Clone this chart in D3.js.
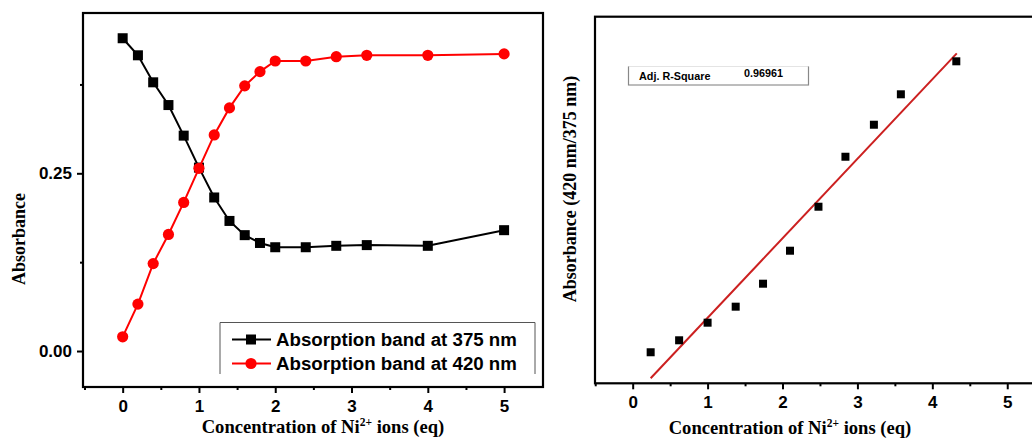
<!DOCTYPE html>
<html>
<head>
<meta charset="utf-8">
<script src="https://cdn.jsdelivr.net/npm/d3@7"></script>
<style>
  body { margin: 0; background: #fff; }
  text { fill: #000; }
</style>
</head>
<body>
<div id="chart"></div>
<script>
// left panel data: absorbance vs equivalents of Ni2+
var conc = [0, 0.2, 0.4, 0.6, 0.8, 1.0, 1.2, 1.4, 1.6, 1.8, 2.0, 2.4, 2.8, 3.2, 4.0, 5.0];
var abs375 = [0.440, 0.416, 0.378, 0.346, 0.303, 0.258, 0.216, 0.183, 0.163, 0.152, 0.146, 0.146, 0.148, 0.149, 0.148, 0.170];
var abs420 = [0.020, 0.066, 0.123, 0.164, 0.209, 0.257, 0.304, 0.342, 0.373, 0.393, 0.408, 0.408, 0.414, 0.416, 0.416, 0.418];
var seriesNames = ["Absorption band at 375 nm", "Absorption band at 420 nm"];
var xTicks = [0, 1, 2, 3, 4, 5];
var xMinor = [-0.5, 0.5, 1.5, 2.5, 3.5, 4.5];
var yTicksLeft = [0, 0.25];
var yMinorLeft = [0.125, 0.375];

// right panel data: ratio 420/375 (no y labels in the original, arbitrary units)
var ratioX = [0.24, 0.62, 1.0, 1.375, 1.74, 2.1, 2.48, 2.84, 3.22, 3.58, 4.32];
var ratioY = [0.254, 0.352, 0.496, 0.627, 0.815, 1.085, 1.445, 1.854, 2.116, 2.365, 2.635];
var fitX = [0.24, 4.326];
var fitY = [0.041, 2.70];
var adjR2 = "0.96961";

var W = 1032, H = 439;
var svg = d3.select("#chart").append("svg")
    .attr("width", W).attr("height", H)
    .style("display", "block");

var sans = "'Liberation Sans', Arial, sans-serif";
var serif = "'Liberation Serif', 'Times New Roman', serif";

// ---------- left panel ----------
var L = {left: 83, right: 543, top: 13, bottom: 387};
var xL = d3.scaleLinear().domain([-0.52, 5.51]).range([L.left, L.right]);
var yL = d3.scaleLinear().domain([-0.0506, 0.4755]).range([L.bottom, L.top]);

function styleAxis(g) {
  g.select(".domain").remove();
  g.selectAll(".tick line").attr("stroke", "#000").attr("stroke-width", 2);
  g.selectAll(".tick text")
    .attr("font-family", sans).attr("font-weight", "bold").attr("font-size", 17);
}

svg.append("g")
  .attr("transform", "translate(0," + L.bottom + ")")
  .call(d3.axisBottom(xL).tickValues(xTicks).tickSize(6).tickPadding(7).tickFormat(d3.format("d")))
  .call(styleAxis);
svg.append("g")
  .attr("transform", "translate(0," + L.bottom + ")")
  .call(d3.axisBottom(xL).tickValues(xMinor).tickSize(3).tickFormat(""))
  .call(styleAxis);
svg.append("g")
  .attr("transform", "translate(" + L.left + ",0)")
  .call(d3.axisLeft(yL).tickValues(yTicksLeft).tickSize(6).tickPadding(5).tickFormat(d3.format(".2f")))
  .call(styleAxis);
svg.append("g")
  .attr("transform", "translate(" + L.left + ",0)")
  .call(d3.axisLeft(yL).tickValues(yMinorLeft).tickSize(3).tickFormat(""))
  .call(styleAxis);

svg.append("rect")
  .attr("x", L.left).attr("y", L.top)
  .attr("width", L.right - L.left).attr("height", L.bottom - L.top)
  .attr("fill", "none").attr("stroke", "#000").attr("stroke-width", 2.2);

var lineL = d3.line().x(function(d) { return xL(d[0]); }).y(function(d) { return yL(d[1]); });
var pts375 = conc.map(function(c, i) { return [c, abs375[i]]; });
var pts420 = conc.map(function(c, i) { return [c, abs420[i]]; });

svg.append("path").datum(pts375)
  .attr("d", lineL).attr("fill", "none").attr("stroke", "#000").attr("stroke-width", 2);
svg.append("g").selectAll("rect").data(pts375).enter().append("rect")
  .attr("x", function(d) { return xL(d[0]) - 5; })
  .attr("y", function(d) { return yL(d[1]) - 5; })
  .attr("width", 10).attr("height", 10).attr("fill", "#000");

svg.append("path").datum(pts420)
  .attr("d", lineL).attr("fill", "none").attr("stroke", "#ff0000").attr("stroke-width", 2);
svg.append("g").selectAll("circle").data(pts420).enter().append("circle")
  .attr("cx", function(d) { return xL(d[0]); })
  .attr("cy", function(d) { return yL(d[1]); })
  .attr("r", 5.6).attr("fill", "#ff0000");

// legend
var leg = svg.append("g");
leg.append("path")
  .attr("d", "M220,374V322.5H535V374")
  .attr("fill", "none").attr("stroke", "#555").attr("stroke-width", 1);
var legColors = ["#000", "#ff0000"];
seriesNames.forEach(function(name, i) {
  var y = 339.5 + i * 24;
  leg.append("line").attr("x1", 232).attr("x2", 271).attr("y1", y).attr("y2", y)
    .attr("stroke", legColors[i]).attr("stroke-width", 2);
  if (i === 0) {
    leg.append("rect").attr("x", 246).attr("y", y - 5).attr("width", 10).attr("height", 10).attr("fill", "#000");
  } else {
    leg.append("circle").attr("cx", 251).attr("cy", y).attr("r", 5.6).attr("fill", "#ff0000");
  }
  leg.append("text").attr("x", 276).attr("y", y + 6.8)
    .attr("font-family", sans).attr("font-weight", "bold").attr("font-size", 18.7)
    .text(name);
});

function concTitle(x, y) {
  var t = svg.append("text").attr("x", x).attr("y", y).attr("text-anchor", "middle")
    .attr("font-family", serif).attr("font-weight", "bold").attr("font-size", 18.6);
  t.append("tspan").text("Concentration of Ni");
  t.append("tspan").attr("dy", -7).attr("font-size", 11.5).text("2+");
  t.append("tspan").attr("dy", 7).text(" ions (eq)");
}
concTitle(323, 433);

svg.append("text")
  .attr("transform", "translate(25,239) rotate(-90)")
  .attr("text-anchor", "middle")
  .attr("font-family", serif).attr("font-weight", "bold").attr("font-size", 18)
  .text("Absorbance");

// ---------- right panel ----------
var R = {left: 595, right: 1044.7, top: 16.7, bottom: 383.3};
var xR = d3.scaleLinear().domain([-0.503, 5.5]).range([R.left, R.right]);
var yR = d3.scaleLinear().domain([0, 3]).range([R.bottom, R.top]);

svg.append("g")
  .attr("transform", "translate(0," + R.bottom + ")")
  .call(d3.axisBottom(xR).tickValues(xTicks).tickSize(6).tickPadding(7).tickFormat(d3.format("d")))
  .call(styleAxis);
svg.append("g")
  .attr("transform", "translate(0," + R.bottom + ")")
  .call(d3.axisBottom(xR).tickValues(xMinor).tickSize(3).tickFormat(""))
  .call(styleAxis);

svg.append("rect")
  .attr("x", R.left).attr("y", R.top)
  .attr("width", R.right - R.left).attr("height", R.bottom - R.top)
  .attr("fill", "none").attr("stroke", "#000").attr("stroke-width", 2.2);

// Adj. R-Square box
var box = svg.append("g");
box.append("rect").attr("x", 628.5).attr("y", 66.5).attr("width", 180).attr("height", 18.5)
  .attr("fill", "#fff").attr("stroke", "#e4e4e4").attr("stroke-width", 1);
box.append("path").attr("d", "M628.5,66.5V85H808.5V66.5")
  .attr("fill", "none").attr("stroke", "#888").attr("stroke-width", 1.2);
box.append("text").attr("x", 639).attr("y", 80)
  .attr("font-family", sans).attr("font-weight", "bold").attr("font-size", 10.8)
  .text("Adj. R-Square");
box.append("text").attr("x", 744).attr("y", 77)
  .attr("font-family", sans).attr("font-weight", "bold").attr("font-size", 10.8)
  .text(adjR2);

svg.append("line")
  .attr("x1", xR(fitX[0])).attr("y1", yR(fitY[0]))
  .attr("x2", xR(fitX[1])).attr("y2", yR(fitY[1]))
  .attr("stroke", "#cc2020").attr("stroke-width", 2);

svg.append("g").selectAll("rect").data(ratioX).enter().append("rect")
  .attr("x", function(d) { return xR(d) - 4; })
  .attr("y", function(d, i) { return yR(ratioY[i]) - 4; })
  .attr("width", 8).attr("height", 8).attr("fill", "#000");

concTitle(790, 434);

svg.append("text")
  .attr("transform", "translate(576,189) rotate(-90)")
  .attr("text-anchor", "middle")
  .attr("font-family", serif).attr("font-weight", "bold").attr("font-size", 18)
  .text("Absorbance (420 nm/375 nm)");
</script>
</body>
</html>
